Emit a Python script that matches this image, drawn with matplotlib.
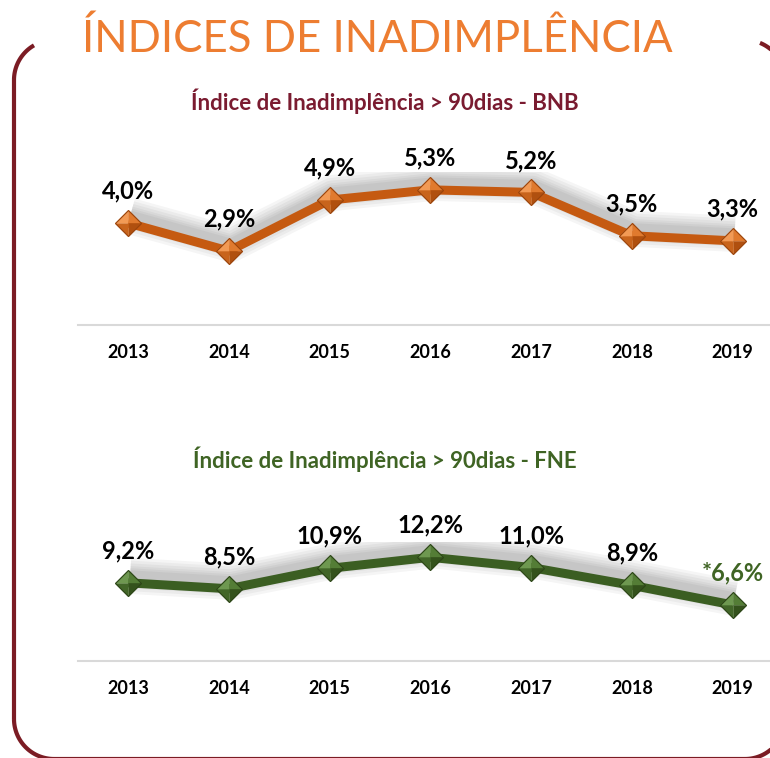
import numpy as np
import matplotlib.pyplot as plt
import matplotlib.patheffects as pe

plt.rcParams['font.family'] = ['Lato', 'DejaVu Sans']

# dados
anos = ['2013', '2014', '2015', '2016', '2017', '2018', '2019']
bnb = [4.0, 2.9, 4.9, 5.3, 5.2, 3.5, 3.3]
fne = [9.2, 8.5, 10.9, 12.2, 11.0, 8.9, 6.6]
rot_bnb = ['4,0%', '2,9%', '4,9%', '5,3%', '5,2%', '3,5%', '3,3%']
rot_fne = ['9,2%', '8,5%', '10,9%', '12,2%', '11,0%', '8,9%', '*6,6%']

W, H = 770, 758
fig = plt.figure(figsize=(W / 100, H / 100), dpi=100)
fig.patch.set_facecolor('white')

# camada de fundo em pixels: moldura e titulo
bg = fig.add_axes([0, 0, 1, 1], zorder=0)
bg.set_xlim(0, W)
bg.set_ylim(H, 0)
bg.axis('off')

# moldura arredondada (so as partes visiveis)
x0, x1, y0, y1, r = 14, 785, 40, 759, 40
cor_borda = '#7B1C24'


def arco(cx, cy, a0, a1):
    t = np.radians(np.linspace(a0, a1, 40))
    return cx + r * np.cos(t), cy + r * np.sin(t)


partes = [
    arco(x0 + r, y0 + r, 180, 240),    # topo esquerdo (parcial)
    ([x0, x0], [y0 + r, y1 - r]),      # lado esquerdo
    arco(x0 + r, y1 - r, 90, 180),     # baixo esquerdo
    ([x0 + r, x1 - r], [y1, y1]),      # base
    arco(x1 - r, y1 - r, 0, 90),       # baixo direito
    arco(x1 - r, y0 + r, 292, 330),    # topo direito (parcial)
]
for px, py in partes:
    bg.plot(px, py, color=cor_borda, linewidth=3, solid_capstyle='butt')

bg.text(377, 39, 'ÍNDICES DE INADIMPLÊNCIA', color='#ED7D31', fontsize=31.5,
        ha='center', va='center')


def facetas(ax, xs, ys, cores, borda, ms=19):
    # diamante em forma de piramide (4 faces)
    tri = {
        'ul': [(0, 0), (-1, 0), (0, 1)],
        'ur': [(0, 0), (0, 1), (1, 0)],
        'lr': [(0, 0), (1, 0), (0, -1)],
        'll': [(0, 0), (0, -1), (-1, 0)],
    }
    for k, c in zip(['ul', 'ur', 'lr', 'll'], cores):
        ax.plot(xs, ys, linestyle='none', marker=tri[k], markersize=ms,
                markerfacecolor=c, markeredgecolor=c, markeredgewidth=0.3,
                zorder=4)
    ax.plot(xs, ys, linestyle='none', marker='D', markersize=ms / 1.414,
            markerfacecolor='none', markeredgecolor=borda,
            markeredgewidth=0.8, zorder=5)


def painel(bottom, height, ymax, valores, rotulos, cor_linha, cores_faces,
           borda, subtitulo, cor_sub, y_sub, cor_rot_ult='black'):
    ax = fig.add_axes([77.6 / W, bottom, 705.4 / W, height], zorder=2)
    ax.patch.set_alpha(0)
    x = list(range(len(anos)))
    sombra = [pe.SimpleLineShadow(offset=(1.5, 5), shadow_color='black',
                                  alpha=0.04, linewidth=w)
              for w in (26, 22, 18, 14, 11, 8)]
    ax.plot(x, valores, color=cor_linha, linewidth=6.5, zorder=3,
            solid_capstyle='butt',
            path_effects=sombra + [pe.Normal()])
    facetas(ax, x, valores, cores_faces, borda)
    for i, (v, r_) in enumerate(zip(valores, rotulos)):
        cor = cor_rot_ult if i == len(valores) - 1 else 'black'
        ax.annotate(r_, (i, v), xytext=(0, 23), textcoords='offset points',
                    ha='center', va='center', fontsize=17, fontweight='bold',
                    color=cor, zorder=6)
    ax.set_xlim(-0.5, len(anos) - 0.5)
    ax.set_ylim(0, ymax)
    ax.set_xticks(x)
    ax.set_xticklabels(anos, fontsize=13, fontweight='bold')
    ax.tick_params(axis='x', length=0, pad=14)
    ax.set_yticks([])
    for s in ['top', 'right', 'left']:
        ax.spines[s].set_visible(False)
    ax.spines['bottom'].set_color('#D9D9D9')
    ax.spines['bottom'].set_linewidth(1.5)
    bg.text(385, y_sub, subtitulo, color=cor_sub, fontsize=16,
            fontweight='bold', ha='center', va='center')
    return ax


painel(1 - 325 / H, 6 * 25.5 / H, 6, bnb, rot_bnb, '#C55A11',
       ['#F29A55', '#E07A2E', '#B0500F', '#C8641C'], '#9A440C',
       'Índice de Inadimplência > 90dias - BNB', '#7A1B30', 101)
painel(1 - 661 / H, 14 * 8.5 / H, 14, fne, rot_fne, '#3B5E22',
       ['#6E9850', '#547D36', '#34521C', '#426628'], '#2C4517',
       'Índice de Inadimplência > 90dias - FNE', '#3F6424', 459,
       cor_rot_ult='#3F6424')

fig.savefig('out.png', dpi=100)
